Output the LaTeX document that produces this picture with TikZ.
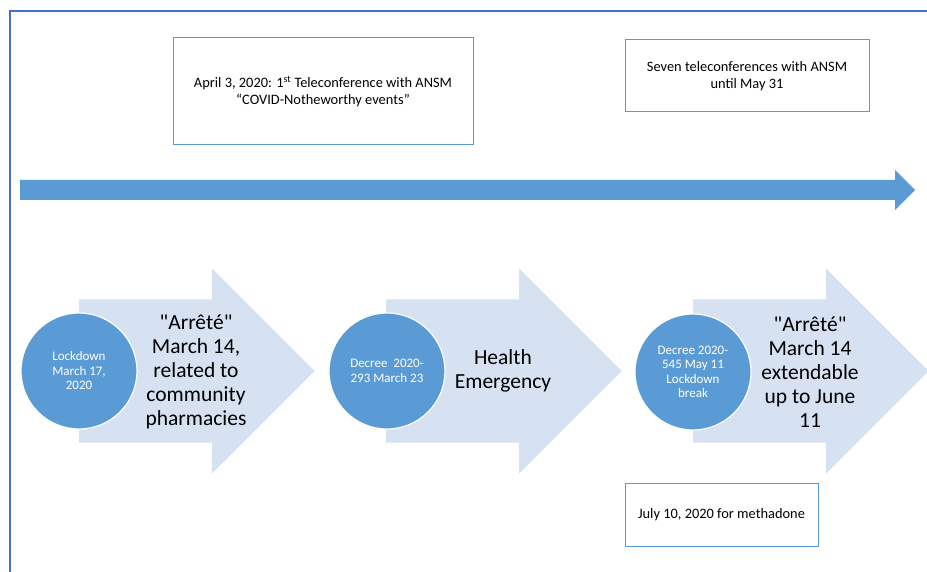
\documentclass[tikz,border=0pt]{standalone}
\usepackage{fontspec}
\setmainfont{Carlito}
\usetikzlibrary{positioning}
\definecolor{officeblue}{HTML}{5B9BD5}
\definecolor{paleblue}{HTML}{D6E1F1}
\definecolor{frameblue}{HTML}{4472C4}
\tikzset{
	event/.style={circle,fill=officeblue,draw=white,line width=1.2pt,minimum size=116pt,inner sep=0pt,
		text=white,align=center,font=\fontsize{13}{14.5}\selectfont},
	stage/.style={align=center,font=\fontsize{21.5}{24}\selectfont},
	note/.style={draw=officeblue,line width=1pt,inner sep=0pt,align=center,font=\fontsize{14.4}{17}\selectfont},
}

\begin{document}
\begin{tikzpicture}[x=1pt,y=-1pt]
	\useasboundingbox (0,0) rectangle (927,572);
	\draw[frameblue,line width=1.6pt] (10,572) -- (10,11) -- (927,11);
	% time line
	\fill[officeblue] (20,180) -- (895,180) -- (895,170) -- (915,190) -- (895,210) -- (895,200) -- (20,200) -- cycle;
	% stage arrows
	\foreach \x in {79,386,693}
		\fill[paleblue] (\x,299.5) -- (\x+133,299.5) -- (\x+133,268.5) -- (\x+235.5,371) -- (\x+133,473.5)
			-- (\x+133,442.5) -- (\x,442.5) -- cycle;
	\node[event] (lockdown) at (79,371) {Lockdown\\March 17,\\2020};
	\node[event] (decree) at (387,371) {Decree~~2020-\\293 March 23};
	\node[event] (lockbreak) at (693,372) {Decree 2020-\\545 May 11\\Lockdown\\break};
	\node[stage] (arrete) at (196,372) {\textquotedbl Arrêté\textquotedbl\\March 14,\\related to\\community\\pharmacies};
	\node[stage] (emergency) at (503,371) {Health\\Emergency};
	\node[stage] (extend) at (810,372) {\textquotedbl Arrêté\textquotedbl\\March 14\\extendable\\up to June\\11};
	% notes
	\node[note,minimum width=300pt,minimum height=107pt] (telefirst) at (323,91.5)
		{April 3, 2020: 1\textsuperscript{st} Teleconference with ANSM\\“COVID-Notheworthy events”};
	\node[note,minimum width=244pt,minimum height=72pt] (teleseven) at (747,76)
		{Seven teleconferences with ANSM\\until May 31};
	\node[note,minimum width=193pt,minimum height=63pt] (methadone) at (721.5,514.5)
		{July 10, 2020 for methadone};
\end{tikzpicture}
\end{document}
